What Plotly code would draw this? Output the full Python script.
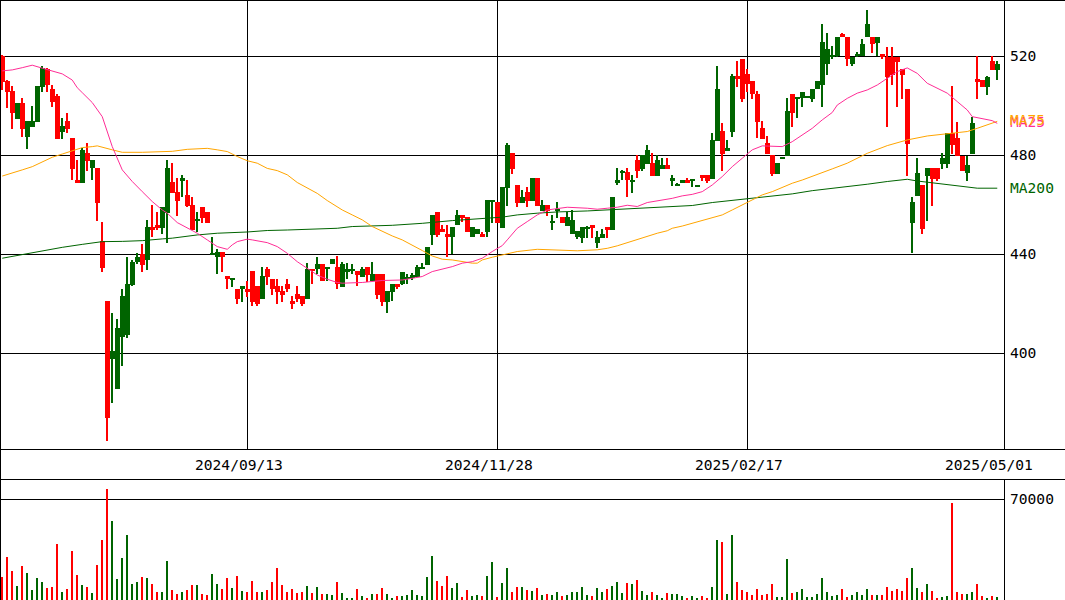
import plotly.graph_objects as go

# ---- daily OHLC (oldest first) ----
OPEN = [520.0, 510.0, 506.0, 494.8, 501.0, 487.5, 491.6, 493.6, 507.7, 514.7,
        506.8, 503.8, 489.6, 493.9, 487.0, 470.0, 469.0, 480.8, 474.7, 474.9,
        445.3, 421.1, 397.8, 385.7, 406.7, 407.5, 427.6, 436.8, 440.1, 437.8,
        451.0, 451.7, 450.8, 456.6, 469.2, 465.2, 469.7, 464.0, 460.0, 453.5,
        459.1, 457.1, 440.0, 438.7, 440.8, 431.2, 429.9, 425.9, 425.9, 425.9,
        433.3, 427.2, 421.8, 433.9, 429.9, 427.2, 425.2, 427.9, 421.1, 423.8,
        423.2, 421.8, 433.9, 433.9, 436.0, 433.9, 436.0, 435.0, 426.9, 432.9,
        433.5, 433.4, 431.0, 435.0, 429.2, 432.0, 432.0, 420.9, 424.9, 428.0,
        428.0, 429.9, 430.5, 431.0, 434.4, 435.7, 447.8, 457.2, 450.4, 448.1,
        446.9, 451.7, 455.9, 454.9, 446.9, 448.1, 448.1, 448.9, 461.3, 461.1,
        450.8, 466.9, 480.9, 468.0, 460.9, 465.2, 461.7, 470.8, 457.6, 459.9,
        453.0, 457.7, 454.9, 451.5, 448.2, 447.0, 446.7, 450.5, 451.8, 444.7,
        446.7, 451.0, 449.9, 469.0, 473.1, 473.1, 469.6, 478.1, 474.5, 476.5,
        476.9, 471.8, 474.5, 476.1, 469.8, 467.8, 469.0, 470.0, 469.9, 467.1,
        472.1, 472.1, 470.4, 485.9, 489.8, 481.9, 489.6, 512.1, 518.8, 512.9,
        510.0, 504.8, 491.0, 485.0, 480.1, 472.5, 478.7, 479.9, 504.8, 503.0,
        503.0, 503.4, 502.8, 506.7, 508.4, 516.8, 519.8, 520.1, 528.9, 527.7,
        516.8, 520.3, 520.1, 527.7, 527.7, 525.5, 520.9, 519.9, 519.9, 519.9,
        514.9, 506.8, 452.8, 463.6, 468.0, 471.8, 474.9, 474.9, 476.6, 476.6,
        488.9, 486.9, 479.9, 472.7, 480.5, 510.8, 510.4, 507.7, 518.1, 514.5]

HIGH = [520.5, 510.5, 508.0, 501.0, 503.2, 493.9, 499.9, 508.0, 516.2, 515.2,
        508.4, 504.6, 495.2, 497.2, 487.0, 478.1, 482.8, 485.1, 478.1, 474.9,
        453.1, 421.1, 416.4, 414.0, 426.0, 439.0, 437.5, 440.4, 444.2, 453.9,
        460.1, 457.1, 459.1, 478.1, 477.0, 471.0, 472.1, 470.0, 463.0, 457.1,
        459.1, 457.1, 447.0, 442.2, 440.8, 431.2, 430.2, 425.9, 427.2, 429.2,
        433.3, 427.2, 435.0, 435.0, 429.9, 429.9, 427.2, 429.9, 423.2, 427.2,
        423.2, 436.6, 433.9, 438.8, 436.0, 435.0, 438.0, 439.1, 436.9, 436.4,
        436.2, 433.4, 435.0, 435.0, 436.9, 432.0, 432.0, 425.2, 428.0, 428.0,
        433.0, 432.1, 432.5, 435.5, 436.3, 443.1, 455.9, 457.2, 451.7, 451.7,
        451.2, 457.9, 455.9, 454.9, 450.9, 450.1, 449.0, 462.0, 462.0, 461.1,
        467.2, 484.8, 480.9, 468.0, 466.0, 467.2, 470.8, 470.8, 462.0, 459.9,
        456.0, 461.0, 454.9, 457.2, 457.9, 449.4, 450.9, 451.5, 451.8, 449.2,
        450.4, 451.0, 463.3, 474.9, 474.1, 474.9, 472.1, 480.1, 480.1, 484.2,
        481.0, 480.1, 478.8, 478.8, 472.1, 469.0, 470.0, 471.0, 470.0, 468.0,
        472.1, 472.1, 488.9, 516.1, 492.9, 486.2, 512.9, 518.1, 518.8, 514.9,
        510.0, 506.1, 493.9, 487.8, 480.1, 476.9, 479.0, 503.0, 504.8, 503.7,
        505.7, 504.0, 506.7, 510.0, 533.1, 529.3, 524.0, 527.7, 529.6, 527.7,
        519.9, 521.8, 526.9, 538.7, 527.7, 527.7, 520.9, 523.6, 523.6, 519.9,
        514.9, 506.8, 463.0, 478.9, 468.0, 474.9, 474.9, 474.9, 480.8, 488.9,
        508.0, 493.6, 479.9, 479.7, 495.4, 520.1, 510.4, 512.2, 520.1, 518.1]

LOW = [506.4, 499.0, 490.8, 494.8, 487.5, 482.7, 491.6, 493.6, 505.7, 505.7,
       499.7, 486.7, 486.7, 488.9, 470.0, 469.0, 469.0, 473.8, 470.0, 453.6,
       433.0, 364.6, 380.0, 385.7, 394.9, 406.0, 427.0, 436.0, 433.0, 433.7,
       446.9, 450.0, 448.0, 444.7, 464.9, 455.5, 463.0, 459.0, 449.8, 448.9,
       452.8, 452.8, 439.6, 431.9, 433.0, 425.9, 426.9, 419.8, 420.9, 422.9,
       418.9, 418.9, 421.8, 427.6, 423.6, 419.8, 420.9, 424.9, 417.8, 420.9,
       419.0, 421.8, 427.9, 432.0, 429.0, 429.0, 436.0, 425.9, 426.9, 429.9,
       432.0, 427.0, 431.0, 428.6, 429.2, 422.0, 418.9, 416.2, 421.0, 425.9,
       427.5, 428.0, 429.5, 431.0, 434.0, 435.7, 443.8, 446.9, 448.9, 438.8,
       440.1, 451.7, 453.0, 448.9, 446.9, 448.1, 446.9, 446.9, 452.8, 452.8,
       450.8, 459.7, 472.5, 458.9, 460.9, 458.9, 461.7, 459.7, 457.6, 455.6,
       450.0, 454.8, 452.8, 451.5, 448.2, 446.0, 444.7, 446.5, 446.6, 442.7,
       446.7, 446.7, 449.9, 468.0, 470.0, 463.0, 464.9, 470.7, 473.8, 476.5,
       471.8, 471.8, 474.5, 474.5, 467.6, 467.6, 469.0, 469.0, 467.1, 467.1,
       469.5, 469.0, 470.4, 485.9, 473.8, 481.9, 487.5, 507.7, 501.7, 505.7,
       502.9, 486.9, 486.7, 480.5, 471.8, 472.5, 478.7, 479.9, 491.6, 495.0,
       499.7, 503.0, 501.7, 506.7, 499.7, 512.5, 519.0, 519.8, 527.7, 516.1,
       516.1, 519.8, 520.1, 527.7, 521.5, 520.1, 518.8, 491.6, 508.4, 499.7,
       502.8, 471.8, 440.7, 463.6, 448.1, 453.6, 459.7, 469.8, 474.6, 474.7,
       480.5, 479.9, 473.8, 469.6, 480.5, 502.8, 507.7, 504.4, 514.5, 510.4]

CLOSE = [509.8, 505.7, 497.0, 501.0, 490.8, 493.9, 493.9, 508.0, 515.2, 508.4,
         501.7, 486.7, 491.9, 490.8, 474.5, 469.0, 482.2, 477.7, 478.1, 460.9,
         434.6, 374.0, 400.9, 410.1, 423.2, 428.0, 436.8, 439.0, 435.7, 451.0,
         449.8, 450.6, 459.1, 474.9, 464.9, 461.7, 470.8, 459.7, 449.8, 453.9,
         454.8, 452.8, 440.3, 440.8, 438.7, 429.9, 430.2, 421.8, 427.2, 424.9,
         420.9, 419.8, 431.2, 431.0, 425.9, 424.9, 423.6, 425.9, 419.8, 421.8,
         419.8, 433.9, 433.3, 436.0, 429.0, 435.0, 438.0, 428.0, 436.1, 434.2,
         434.0, 431.6, 434.2, 431.6, 432.0, 423.6, 420.9, 425.2, 428.0, 426.9,
         433.0, 431.0, 431.5, 435.0, 435.0, 443.1, 455.9, 447.8, 448.9, 446.9,
         451.2, 455.9, 454.5, 448.9, 450.9, 450.1, 446.9, 462.0, 462.0, 452.8,
         467.2, 484.1, 474.5, 460.9, 463.3, 461.7, 470.8, 459.7, 459.9, 457.6,
         453.3, 457.9, 452.8, 454.9, 453.9, 449.4, 450.9, 451.0, 450.8, 447.0,
         448.2, 449.9, 463.3, 470.0, 473.4, 470.0, 470.0, 473.8, 480.1, 482.2,
         471.8, 478.1, 476.1, 474.5, 470.7, 468.0, 470.0, 469.0, 470.0, 468.0,
         470.7, 469.8, 486.2, 506.8, 480.5, 483.1, 512.1, 510.7, 502.8, 508.8,
         504.8, 493.6, 486.7, 480.5, 472.5, 476.9, 478.9, 497.9, 497.0, 503.1,
         505.7, 503.7, 506.7, 510.0, 525.9, 522.8, 520.2, 527.7, 527.7, 518.8,
         519.9, 520.6, 525.0, 533.1, 524.8, 527.7, 519.9, 511.8, 512.5, 517.7,
         512.6, 484.7, 461.3, 472.9, 450.1, 474.9, 470.6, 470.6, 478.9, 488.9,
         484.2, 479.9, 473.8, 476.1, 492.9, 509.8, 507.7, 511.8, 514.5, 516.8]

VOLUME = [16000, 30000, 19900, 9700, 23700, 18800, 6700, 15300, 12500, 8300,
          9000, 38900, 5500, 7400, 34200, 17200, 10200, 9000, 4800, 24200,
          41700, 77300, 55200, 14400, 29300, 45200, 10900, 12500, 16000, 15300,
          11300, 5500, 5500, 27000, 6700, 3900, 5500, 6700, 10200, 10200,
          3900, 3200, 18300, 11300, 7400, 15100, 8100, 16500, 6000, 5500,
          13000, 5300, 5300, 6700, 12300, 22100, 10200, 5300, 7400, 4600,
          5300, 9500, 4600, 8800, 3900, 3900, 3200, 12300, 4600, 1100,
          1100, 7400, 2500, 1100, 3900, 3900, 8100, 3900, 1100, 2500,
          2500, 3200, 6700, 3200, 2500, 15800, 30500, 13000, 9500, 16500,
          8100, 11600, 1800, 6700, 2500, 3200, 2500, 16500, 26300, 1800,
          11600, 22100, 5300, 8800, 8800, 6700, 6000, 8100, 3200, 3900,
          3200, 5300, 2500, 3200, 5300, 5300, 8800, 3200, 2500, 8100,
          5300, 7400, 9500, 12300, 4600, 11600, 10900, 13700, 6000, 3200,
          5300, 3200, 1100, 4600, 3900, 3900, 2500, 1100, 2500, 1100,
          2500, 1100, 8800, 41700, 40300, 3900, 45200, 12300, 6700, 5300,
          3200, 7400, 3200, 3900, 10900, 1800, 1800, 28400, 4600, 5300,
          7400, 1800, 1800, 3900, 15100, 5300, 2500, 3200, 7400, 1800,
          3200, 5300, 3200, 7400, 3200, 3200, 3200, 8800, 6000, 7400,
          6000, 15100, 22100, 8100, 5300, 10900, 6000, 1100, 1800, 2500,
          67600, 5300, 3900, 3900, 5300, 10900, 2500, 1100, 2500, 1800]

# ---- moving averages (session index, value) ----
MA25_IDX = [0, 2, 4, 6, 8, 10, 12, 14, 15, 16, 18, 20, 22, 24, 26, 28, 30, 32, 33, 35,
            37, 39, 41, 43, 45, 46, 47, 49, 50, 53, 55, 57, 59, 61, 63, 65, 67, 68, 72, 76,
            80, 84, 86, 90, 92, 94, 96, 98, 100, 101, 103, 105, 107, 109, 111, 113, 117, 119, 121, 123,
            125, 127, 129, 131, 133, 134, 136, 138, 140, 142, 144, 146, 148, 150, 152, 154, 156, 158, 160, 162,
            164, 166, 167, 169, 171, 173, 175, 177, 179, 181, 183, 185, 187, 189, 191, 193, 194, 196, 198, 199]
MA25_VAL = [514.1, 514.5, 515.4, 516.4, 515.2, 514.2, 512.9, 510.4, 507.3, 505.3, 501.3, 495.6, 483.5, 474.1, 469.4, 465.3, 461.3, 457.9, 456.6, 452.8,
            450.5, 448.5, 445.8, 443.1, 442.0, 443.8, 445.1, 446.1, 445.8, 444.7, 443.1, 440.4, 437.0, 434.3, 431.6, 429.9, 428.6, 428.3, 428.6, 429.4,
            429.6, 431.0, 433.0, 435.0, 436.4, 437.0, 438.4, 441.1, 443.5, 445.8, 450.5, 453.2, 455.9, 457.9, 458.6, 459.0, 458.6, 458.2, 458.6, 459.0,
            459.8, 459.3, 460.9, 461.5, 462.2, 462.6, 463.6, 464.2, 465.3, 468.0, 471.4, 475.4, 478.8, 482.2, 483.8, 483.5, 483.5, 485.5, 488.2, 490.9,
            494.3, 497.3, 500.3, 503.0, 505.1, 506.4, 508.4, 511.1, 513.8, 515.3, 513.1, 509.1, 507.1, 505.1, 501.7, 498.3, 495.6, 494.7, 494.0, 492.9]

MA75_IDX = [0, 2, 4, 6, 8, 10, 12, 14, 16, 18, 19, 22, 24, 28, 32, 34, 37, 41, 43, 45,
            47, 49, 51, 53, 55, 57, 59, 61, 63, 65, 67, 68, 70, 72, 74, 76, 78, 80, 82, 84,
            86, 88, 90, 92, 94, 95, 96, 98, 100, 101, 103, 107, 111, 115, 119, 121, 123, 125, 127, 129,
            131, 133, 134, 136, 138, 140, 142, 144, 146, 148, 150, 152, 154, 156, 158, 160, 162, 164, 166, 169,
            173, 177, 181, 185, 189, 193, 195, 197, 199]
MA75_VAL = [471.6, 473.0, 474.1, 475.4, 477.4, 479.2, 480.5, 481.9, 483.1, 483.5, 483.8, 482.2, 481.2, 481.2, 481.3, 481.6, 482.4, 482.8, 482.2, 481.5,
            479.5, 477.8, 476.8, 474.7, 473.8, 472.1, 469.0, 466.7, 464.6, 461.7, 459.0, 457.9, 455.9, 453.9, 451.2, 449.2, 447.4, 445.8, 443.8, 441.5,
            439.3, 438.0, 437.7, 437.0, 436.4, 436.4, 437.7, 438.8, 439.6, 440.1, 441.1, 442.0, 441.8, 441.4, 441.8, 442.4, 443.4, 444.7, 446.1, 447.4,
            448.5, 449.5, 450.5, 451.4, 452.5, 453.6, 454.5, 455.9, 457.9, 459.9, 462.2, 464.0, 465.3, 467.1, 468.7, 470.0, 471.4, 473.0, 474.5, 476.8,
            480.8, 483.9, 486.2, 487.8, 488.6, 489.6, 490.9, 492.3, 493.7]

MA200_IDX = [0, 4, 8, 12, 16, 20, 24, 28, 32, 34, 39, 43, 49, 53, 57, 61, 67, 70, 78, 84,
             90, 100, 103, 107, 111, 117, 123, 127, 132, 138, 142, 146, 150, 154, 158, 162, 166, 169, 173, 177,
             181, 183, 187, 191, 195, 199]
MA200_VAL = [438.4, 439.9, 441.1, 442.8, 444.0, 445.1, 445.2, 445.5, 446.2, 446.5, 447.8, 448.5, 449.0, 449.6, 449.8, 450.1, 450.5, 451.2, 451.7, 452.5,
             453.6, 455.0, 455.9, 456.6, 457.1, 457.5, 458.2, 458.6, 459.3, 459.7, 460.9, 461.7, 462.6, 463.6, 464.4, 465.7, 466.6, 467.3, 468.3, 469.4,
             470.3, 469.6, 468.7, 467.6, 466.7, 466.7]

DATE_IDX = [49, 99, 149, 199]
DATE_TEXT = ["2024/09/13", "2024/11/28", "2025/02/17", "2025/05/01"]
GRID_IDX = [49, 99, 149]
PRICE_TICKS = [400, 440, 480, 520]
VOLUME_TICKS = [70000]
VOLUME_TICK_TEXT = ["70000"]

UP = "#006400"
DOWN = "#ff0000"
PINK = "#ff2d96"
ORANGE = "#ffa500"
FONT = "DejaVu Sans Mono"
FSIZE = 14.6

W, H = 1065, 600
PLOT_RIGHT = 1004          # px, right edge of the chart panels
PRICE_BOTTOM = 449         # px, bottom of price panel
VOL_TOP = 479              # px, top of volume panel

n = len(CLOSE)
idx = list(range(n))
colors = [UP if c >= o else DOWN for o, c in zip(OPEN, CLOSE)]

body_base = [min(o, c) for o, c in zip(OPEN, CLOSE)]
body_h = [max(abs(c - o), 0.45) for o, c in zip(OPEN, CLOSE)]
wick_h = [max(h - l, 0.4) for h, l in zip(HIGH, LOW)]

fig = go.Figure()

# wicks
fig.add_trace(go.Bar(x=idx, y=wick_h, base=LOW, width=0.22,
                     marker=dict(color=colors, line=dict(width=0)),
                     xaxis="x", yaxis="y", hoverinfo="skip"))
# bodies
fig.add_trace(go.Bar(x=idx, y=body_h, base=body_base, width=1.0,
                     marker=dict(color=colors, line=dict(width=0)),
                     xaxis="x", yaxis="y", hoverinfo="skip"))

# moving averages
fig.add_trace(go.Scatter(x=MA200_IDX, y=MA200_VAL, mode="lines",
                         line=dict(color=UP, width=1), xaxis="x", yaxis="y"))
fig.add_trace(go.Scatter(x=MA75_IDX, y=MA75_VAL, mode="lines",
                         line=dict(color=ORANGE, width=1), xaxis="x", yaxis="y"))
fig.add_trace(go.Scatter(x=MA25_IDX, y=MA25_VAL, mode="lines",
                         line=dict(color=PINK, width=1), xaxis="x", yaxis="y"))

# volume
fig.add_trace(go.Bar(x=idx, y=VOLUME, width=0.26,
                     marker=dict(color=colors, line=dict(width=0)),
                     xaxis="x2", yaxis="y2", hoverinfo="skip"))

xdom = [0, PLOT_RIGHT / W]
xrange = [-0.45, n + 0.35]

annotations = []
for i, t in zip(DATE_IDX, DATE_TEXT):
    annotations.append(dict(x=i, y=1 - 464 / H, xref="x", yref="paper", text=t,
                            showarrow=False, xanchor="center", yanchor="middle",
                            xshift=-8, font=dict(family=FONT, size=FSIZE, color="black")))
# MA labels at the right edge, at the last MA values (25 and 75 sit on top of each other)
annotations.append(dict(x=1008 / W, y=MA25_VAL[-1], xref="paper", yref="y", text="MA25",
                        showarrow=False, xanchor="left", yanchor="middle", yshift=2,
                        font=dict(family=FONT, size=FSIZE, color=PINK)))
annotations.append(dict(x=1008 / W, y=MA75_VAL[-1], xref="paper", yref="y", text="MA75",
                        showarrow=False, xanchor="left", yanchor="middle", yshift=2,
                        font=dict(family=FONT, size=FSIZE, color=ORANGE)))
annotations.append(dict(x=1008 / W, y=MA200_VAL[-1], xref="paper", yref="y", text="MA200",
                        showarrow=False, xanchor="left", yanchor="middle", yshift=1,
                        font=dict(family=FONT, size=FSIZE, color=UP)))


def hline(py, x0=0, x1=W):
    return dict(type="line", xref="paper", yref="paper", x0=x0 / W, x1=x1 / W,
                y0=1 - py / H, y1=1 - py / H, line=dict(color="black", width=1))


def vline(px, y0, y1):
    return dict(type="line", xref="paper", yref="paper", x0=px / W, x1=px / W,
                y0=1 - y0 / H, y1=1 - y1 / H, line=dict(color="black", width=1))


shapes = [
    hline(0.5),
    hline(PRICE_BOTTOM + 0.5),
    hline(VOL_TOP + 0.5),
    vline(0.5, 0, H),
    vline(PLOT_RIGHT + 0.5, 0, PRICE_BOTTOM + 0.5),
    vline(PLOT_RIGHT + 0.5, VOL_TOP + 0.5, H),
]

fig.update_layout(
    width=W, height=H,
    margin=dict(l=0, r=0, t=0, b=0),
    paper_bgcolor="white", plot_bgcolor="white",
    showlegend=False, barmode="overlay", bargap=0,
    hovermode=False,
    xaxis=dict(domain=xdom, range=xrange, anchor="y",
               tickmode="array", tickvals=GRID_IDX, showticklabels=False,
               showgrid=True, gridcolor="black", gridwidth=1,
               zeroline=False, showline=False, ticks=""),
    yaxis=dict(domain=[1 - PRICE_BOTTOM / H, 1], range=[361.3, 542.75], anchor="x",
               side="right", tickmode="array", tickvals=PRICE_TICKS,
               showgrid=True, gridcolor="black", gridwidth=1,
               zeroline=False, showline=False, ticks="", ticklabelstandoff=5,
               tickfont=dict(family=FONT, size=FSIZE, color="black")),
    xaxis2=dict(domain=xdom, range=xrange, anchor="y2", matches="x",
                showticklabels=False, showgrid=False, zeroline=False,
                showline=False, ticks=""),
    yaxis2=dict(domain=[0, 1 - VOL_TOP / H], range=[0, 84100], anchor="x2",
                side="right", tickmode="array", tickvals=VOLUME_TICKS,
                ticktext=VOLUME_TICK_TEXT,
                showgrid=True, gridcolor="black", gridwidth=1,
                zeroline=False, showline=False, ticks="", ticklabelstandoff=5,
                tickfont=dict(family=FONT, size=FSIZE, color="black")),
    annotations=annotations,
    shapes=shapes,
)

fig.write_html("out.html")
